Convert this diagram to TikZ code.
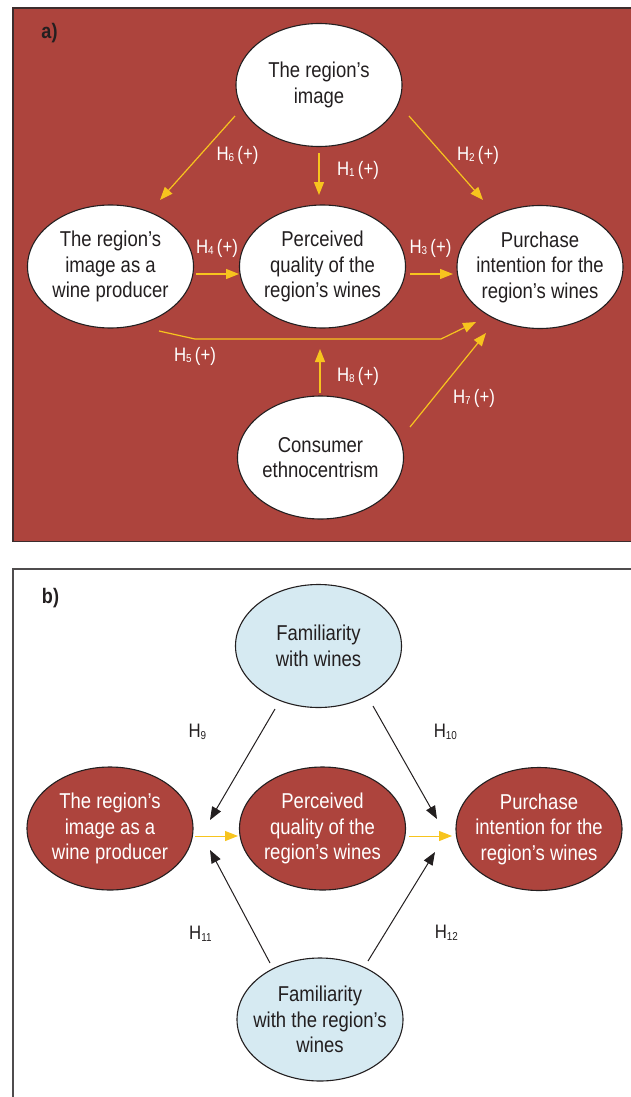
\documentclass[tikz,border=0pt]{standalone}
\usepackage{fontspec}
\setmainfont[FakeStretch=0.86]{Liberation Sans}
\usetikzlibrary{arrows.meta,shapes.geometric}
\definecolor{wred}{RGB}{173,68,61}
\definecolor{wyel}{RGB}{247,196,30}
\definecolor{wblue}{RGB}{214,234,242}
\definecolor{wtext}{RGB}{35,31,32}
\definecolor{wframe}{RGB}{60,45,45}
\newcommand{\hyp}[2]{H{\fontsize{11.5}{11.5}\selectfont\raisebox{-1.5pt}{#1}}\,#2}
\begin{document}
\begin{tikzpicture}[x=1pt,y=-1pt,
  ell/.style={ellipse,draw=wtext,line width=1.1pt,minimum width=166pt,minimum height=123pt,inner xsep=-14pt,inner ysep=0pt,align=center,
    font=\fontsize{21.5}{25.5}\selectfont},
  whiteell/.style={ell,fill=white,text=wtext},
  redell/.style={ell,fill=wred,text=white},
  blueell/.style={ell,fill=wblue,text=wtext},
  yarr/.style={draw=wyel,line width=1.2pt,-{Triangle[length=13pt,width=10pt]}},
  barr/.style={draw=wtext,line width=1pt,-{Triangle[length=13pt,width=10pt]}},
  lab/.style={font=\fontsize{19.5}{22}\selectfont,inner sep=0pt},
  wlab/.style={lab,text=white},
  blab/.style={lab,text=wtext},
  panel/.style={font=\fontsize{21}{24}\selectfont\bfseries,text=wtext,inner sep=0pt}]
\useasboundingbox (0,0) rectangle (630,1097);
% panel a frame
\draw[fill=wred,draw=wframe,line width=1.2pt] (13,8) rectangle (640,541.5);
\node[panel] (pa) at (49.5,33) {a)};
% panel a nodes
\node[whiteell] (img) at (319,85) {The region’s\\image};
\node[whiteell] (rp) at (110.5,266.5) {The region’s\\image as a\\wine producer};
\node[whiteell] (pq) at (322.5,266.5) {Perceived\\quality of the\\region’s wines};
\node[whiteell] (pi) at (540,267) {Purchase\\intention for the\\region’s wines};
\node[whiteell] (ce) at (320.5,457.5) {Consumer\\ethnocentrism};
% endpoints
\coordinate (h6s) at (235,116); \coordinate (h6e) at (160,200);
\coordinate (h1s) at (319,153); \coordinate (h1e) at (319,195);
\coordinate (h2s) at (409,116); \coordinate (h2e) at (483,200);
\coordinate (h4s) at (196,274); \coordinate (h4e) at (239,274);
\coordinate (h3s) at (410,274); \coordinate (h3e) at (453,274);
\coordinate (h5s) at (159,331); \coordinate (h5a) at (195,339); \coordinate (h5b) at (441,339); \coordinate (h5e) at (476,322);
\coordinate (h8s) at (320,393); \coordinate (h8e) at (320,349);
\coordinate (h7s) at (410,427); \coordinate (h7e) at (486,333);
\draw[yarr] (h6s) -- (h6e);
\draw[yarr] (h1s) -- (h1e);
\draw[yarr] (h2s) -- (h2e);
\draw[yarr] (h4s) -- (h4e);
\draw[yarr] (h3s) -- (h3e);
\draw[yarr] (h5s) -- (h5a) -- (h5b) -- (h5e);
\draw[yarr] (h8s) -- (h8e);
\draw[yarr] (h7s) -- (h7e);
\node[wlab] (l6) at (237.5,155) {\hyp{6}{(+)}};
\node[wlab] (l1) at (358,170) {\hyp{1}{(+)}};
\node[wlab] (l2) at (478,155) {\hyp{2}{(+)}};
\node[wlab] (l4) at (217,248) {\hyp{4}{(+)}};
\node[wlab] (l3) at (430.5,248) {\hyp{3}{(+)}};
\node[wlab] (l5) at (195,356) {\hyp{5}{(+)}};
\node[wlab] (l8) at (358,376) {\hyp{8}{(+)}};
\node[wlab] (l7) at (474,398) {\hyp{7}{(+)}};
% panel b frame
\draw[draw=wtext!80,line width=1.2pt] (640,569) -- (13,569) -- (13,1100);
\node[panel] (pb) at (50.5,598) {b)};
\node[blueell] (fw) at (318.5,646) {Familiarity\\with wines};
\node[redell] (brp) at (110,828.5) {The region’s\\image as a\\wine producer};
\node[redell] (bpq) at (322.5,828.5) {Perceived\\quality of the\\region’s wines};
\node[redell] (bpi) at (539,829) {Purchase\\intention for the\\region’s wines};
\node[blueell] (fr) at (320,1019.5) {Familiarity\\with the region’s\\wines};
\coordinate (y1s) at (195,836); \coordinate (y1e) at (238,836);
\coordinate (y2s) at (409,836); \coordinate (y2e) at (452,836);
\coordinate (b9s) at (275,709); \coordinate (b9e) at (210,820);
\coordinate (b10s) at (373,706); \coordinate (b10e) at (437,819);
\coordinate (b11s) at (270,963); \coordinate (b11e) at (210,850);
\coordinate (b12s) at (368,961); \coordinate (b12e) at (435,852);
\draw[yarr,line width=1pt] (y1s) -- (y1e);
\draw[yarr,line width=1pt] (y2s) -- (y2e);
\draw[barr] (b9s) -- (b9e);
\draw[barr] (b10s) -- (b10e);
\draw[barr] (b11s) -- (b11e);
\draw[barr] (b12s) -- (b12e);
\node[blab] (l9) at (199,732) {\hyp{9}{}};
\node[blab] (l10) at (447,732) {\hyp{10}{}};
\node[blab] (l11) at (202,934) {\hyp{11}{}};
\node[blab] (l12) at (448,933) {\hyp{12}{}};
\end{tikzpicture}
\end{document}
